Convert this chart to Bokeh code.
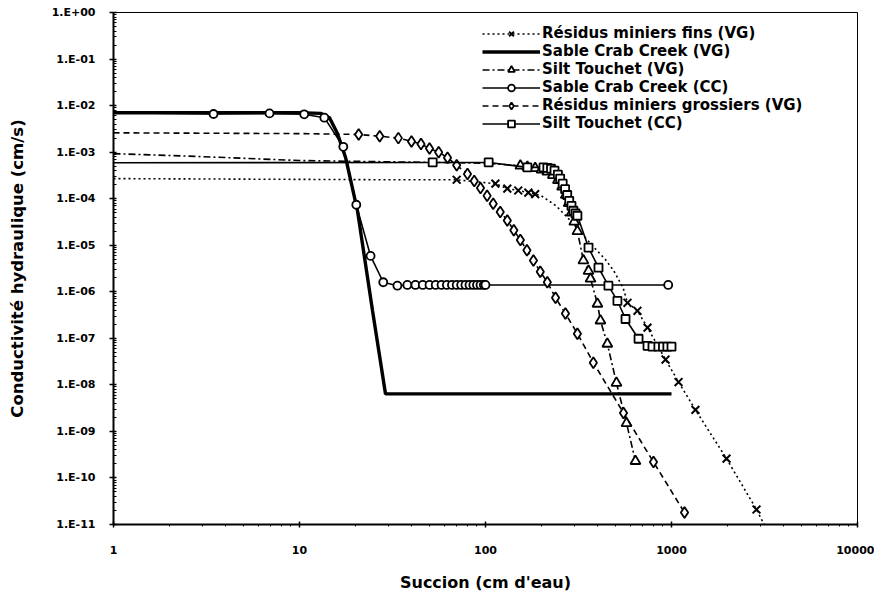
from bokeh.plotting import figure
from bokeh.models import Legend, LegendItem, CustomJSTickFormatter, FixedTicker
from bokeh.embed import file_html
from bokeh.resources import INLINE

# ---------------- data ----------------
fins_line_x = [1, 10, 30, 70, 113, 131, 150, 170, 185, 200, 240, 275, 320, 383, 440, 490, 550, 580, 656, 743, 929, 1091, 1345, 1976, 2864, 3150]
fins_line_y = [2.7e-4, 2.6e-4, 2.55e-4, 2.55e-4, 2.1e-4, 1.65e-4, 1.5e-4, 1.35e-4, 1.25e-4, 1.15e-4, 7e-5, 4e-5, 2e-5, 9e-6, 5e-6, 2.8e-6, 1.2e-6, 5.8e-7, 3.9e-7, 1.7e-7, 3.5e-8, 1.15e-8, 2.9e-9, 2.6e-10, 2.1e-11, 1e-11]
fins_mark_x = [70, 113, 131, 150, 170, 185, 580, 656, 743, 929, 1091, 1345, 1976, 2864]
fins_mark_y = [2.55e-4, 2.1e-4, 1.65e-4, 1.5e-4, 1.35e-4, 1.25e-4, 5.8e-7, 3.9e-7, 1.7e-7, 3.5e-8, 1.15e-8, 2.9e-9, 2.6e-10, 2.1e-11]

sable_vg_x = [1, 10, 13, 14.5, 16, 17.7, 20.5, 24.7, 29, 1000]
sable_vg_y = [7e-3, 7e-3, 6.8e-3, 5.5e-3, 2.5e-3, 7.6e-4, 5.5e-5, 3.9e-7, 6.4e-9, 6.4e-9]

silt_vg_x = [1, 3, 10, 30, 100, 154, 168, 185, 200, 215, 230, 245, 258, 270, 280, 290, 300, 312, 336, 358, 367, 400, 415, 452, 506, 573, 640]
silt_vg_y = [9.3e-4, 8e-4, 6.6e-4, 6.2e-4, 5.8e-4, 5.1e-4, 4.8e-4, 4.5e-4, 4.2e-4, 3.8e-4, 3.2e-4, 2.5e-4, 1.8e-4, 1.2e-4, 8e-5, 5e-5, 3.2e-5, 2e-5, 4.7e-6, 2.8e-6, 1.9e-6, 5.5e-7, 2.4e-7, 7.6e-8, 1.1e-8, 1.5e-9, 2.3e-10]
silt_vg_mark_x = silt_vg_x[5:]
silt_vg_mark_y = silt_vg_y[5:]

sable_cc_x = [1, 3.45, 6.9, 10.6, 13.6, 17.2, 20.2, 24.1, 28.2, 33.6, 38, 42, 46, 50, 54, 58, 62, 66, 70, 74, 78, 82, 86, 90, 94, 98, 100, 960]
sable_cc_y = [7e-3, 6.6e-3, 6.8e-3, 6.5e-3, 5.5e-3, 1.3e-3, 7.4e-5, 5.9e-6, 1.6e-6, 1.35e-6, 1.4e-6, 1.4e-6, 1.4e-6, 1.4e-6, 1.4e-6, 1.4e-6, 1.4e-6, 1.4e-6, 1.4e-6, 1.4e-6, 1.4e-6, 1.4e-6, 1.4e-6, 1.4e-6, 1.4e-6, 1.4e-6, 1.4e-6, 1.4e-6]

gros_x = [1, 10, 20.8, 27, 34, 40, 45, 50, 56, 62.5, 70, 80, 87, 94, 102, 110, 120, 131, 142, 154, 167, 181, 197, 215, 238, 269, 312, 380, 552, 800, 1175]
gros_y = [2.6e-3, 2.5e-3, 2.4e-3, 2.2e-3, 2e-3, 1.7e-3, 1.5e-3, 1.2e-3, 1e-3, 7.6e-4, 5.2e-4, 3.4e-4, 2.4e-4, 1.7e-4, 1.15e-4, 7.8e-5, 5.2e-5, 3.4e-5, 2.1e-5, 1.3e-5, 7.8e-6, 4.7e-6, 2.7e-6, 1.6e-6, 7.4e-7, 3.4e-7, 1.26e-7, 3e-8, 2.5e-9, 2.2e-10, 1.8e-11]

silt_cc_x = [1, 52, 104, 168, 205, 215, 225, 235, 245, 252, 260, 268, 275, 282, 290, 297, 305, 312, 358, 405, 458, 512, 566, 665, 743, 790, 850, 900, 950, 1000]
silt_cc_y = [5.9e-4, 6e-4, 6e-4, 4.7e-4, 4.7e-4, 4.6e-4, 4.4e-4, 4e-4, 3.3e-4, 2.7e-4, 2.1e-4, 1.6e-4, 1.2e-4, 9e-5, 7e-5, 5.5e-5, 4.8e-5, 4.3e-5, 8.9e-6, 3.3e-6, 1.35e-6, 6.4e-7, 2.6e-7, 9.8e-8, 6.9e-8, 6.6e-8, 6.6e-8, 6.6e-8, 6.6e-8, 6.6e-8]

labels = ["Résidus miniers fins (VG)", "Sable Crab Creek (VG)", "Silt Touchet (VG)",
          "Sable Crab Creek (CC)", "Résidus miniers grossiers (VG)", "Silt Touchet (CC)"]
y_ticks = [1e-11, 1e-10, 1e-9, 1e-8, 1e-7, 1e-6, 1e-5, 1e-4, 1e-3, 1e-2, 1e-1, 1.0]
x_ticks = [1, 10, 100, 1000, 10000]

# ---------------- figure ----------------
p = figure(width=874, height=596, x_axis_type="log", y_axis_type="log",
           x_range=(1, 10000), y_range=(1e-11, 1),
           output_backend="svg", toolbar_location=None,
           min_border_left=113, min_border_right=17, min_border_top=12, min_border_bottom=72)
p.grid.visible = False
p.outline_line_color = "black"
p.outline_line_width = 1
p.background_fill_color = "white"

FONT = "DejaVu Sans"
for ax in (p.xaxis[0], p.yaxis[0]):
    ax.axis_line_width = 2
    ax.axis_line_color = "black"
    ax.major_tick_line_color = "black"
    ax.major_tick_line_width = 1.5
    ax.minor_tick_line_color = "black"
    ax.major_label_text_font = FONT
    ax.major_label_text_font_style = "bold"
    ax.major_label_text_font_size = "11px"
    ax.major_label_text_color = "black"
    ax.axis_label_text_font = FONT
    ax.axis_label_text_font_style = "bold"
    ax.axis_label_text_color = "black"
p.xaxis.axis_label_text_font_size = "16px"
p.yaxis.axis_label_text_font_size = "16.5px"

p.yaxis.ticker = FixedTicker(ticks=y_ticks, minor_ticks=[m * t for t in y_ticks[:-1] for m in range(2, 10)])
p.xaxis.ticker = FixedTicker(ticks=x_ticks, minor_ticks=[m * t for t in x_ticks[:-1] for m in range(2, 10)])
p.yaxis.formatter = CustomJSTickFormatter(code="""
const e = Math.round(Math.log10(tick));
return "1.E" + (e < 0 ? "-" : "+") + String(Math.abs(e)).padStart(2, "0");
""")
p.xaxis.formatter = CustomJSTickFormatter(code="return String(Math.round(tick));")

p.yaxis.major_tick_out = 4
p.yaxis.major_tick_in = 3
p.yaxis.minor_tick_in = 3
p.yaxis.minor_tick_out = 0
p.yaxis.major_label_standoff = 14
p.xaxis.major_tick_out = 3
p.xaxis.major_tick_in = 3
p.xaxis.minor_tick_in = 0
p.xaxis.minor_tick_out = 2
p.xaxis.major_label_standoff = 18
p.xaxis.axis_label = "Succion (cm d'eau)"
p.yaxis.axis_label = "Conductivité hydraulique (cm/s)"
p.xaxis.axis_label_standoff = 16
p.yaxis.axis_label_standoff = 22

# ---------------- series ----------------
r1l = p.line(fins_line_x, fins_line_y, line_color="black", line_width=1.6, line_dash="2 3")
r1m = p.scatter(fins_mark_x, fins_mark_y, marker="x", size=11, line_color="black", line_width=2)

r2l = p.line(sable_vg_x, sable_vg_y, line_color="black", line_width=3.4)

r3l = p.line(silt_vg_x, silt_vg_y, line_color="black", line_width=1.6, line_dash="7 3 2 3")
r3m = p.scatter(silt_vg_mark_x, silt_vg_mark_y, marker="triangle", size=10, line_color="black",
                line_width=1.8, fill_color="white")

r4l = p.line(sable_cc_x, sable_cc_y, line_color="black", line_width=1.6)
r4m = p.scatter(sable_cc_x[1:], sable_cc_y[1:], marker="circle", size=8, line_color="black",
                line_width=1.8, fill_color="white")

r5l = p.line(gros_x, gros_y, line_color="black", line_width=1.6, line_dash="6 4")
r5m = p.scatter(gros_x[2:], gros_y[2:], marker="diamond", size=11, line_color="black",
                line_width=1.8, fill_color="white")

r6l = p.line(silt_cc_x, silt_cc_y, line_color="black", line_width=1.6)
r6m = p.scatter(silt_cc_x[1:], silt_cc_y[1:], marker="square", size=8, line_color="black",
                line_width=1.8, fill_color="white")

items = [
    LegendItem(label=labels[0], renderers=[r1l, r1m]),
    LegendItem(label=labels[1], renderers=[r2l]),
    LegendItem(label=labels[2], renderers=[r3l, r3m]),
    LegendItem(label=labels[3], renderers=[r4l, r4m]),
    LegendItem(label=labels[4], renderers=[r5l, r5m]),
    LegendItem(label=labels[5], renderers=[r6l, r6m]),
]
legend = Legend(items=items, location="top_right", margin=12, padding=12, spacing=-1,
                glyph_width=58, glyph_height=17, label_height=17, label_width=303,
                label_standoff=2, border_line_color=None, background_fill_alpha=0.0,
                label_text_font=FONT, label_text_font_style="bold",
                label_text_font_size="15px", label_text_color="black")
p.add_layout(legend, "center")

open("out.html", "w").write(file_html(p, INLINE))
